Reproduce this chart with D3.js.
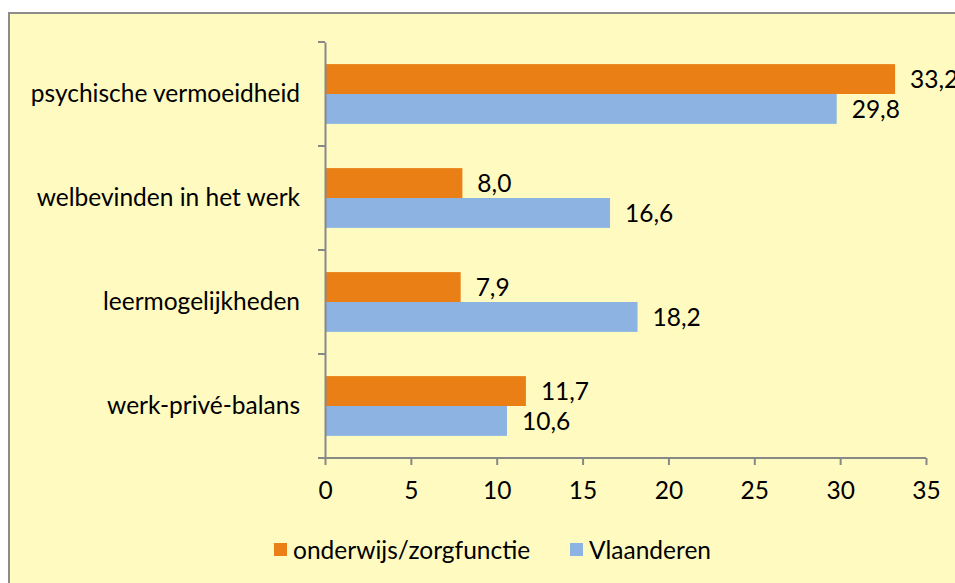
<!DOCTYPE html>
<html>
<head>
<meta charset="utf-8">
<script src="https://cdn.jsdelivr.net/npm/d3@7"></script>
<style>
body { margin: 0; background: #fff; overflow: hidden; }
text { font-family: Lato, "Open Sans", sans-serif; fill: #000; }
</style>
</head>
<body>
<svg width="955" height="583"></svg>
<script>
var categories = ["psychische vermoeidheid", "welbevinden in het werk", "leermogelijkheden", "werk-privé-balans"];
var seriesNames = ["onderwijs/zorgfunctie", "Vlaanderen"];
var onderwijs = [33.2, 8.0, 7.9, 11.7];
var vlaanderen = [29.8, 16.6, 18.2, 10.6];
var xTicks = [0, 5, 10, 15, 20, 25, 30, 35];
var colors = ["#EA7F16", "#8DB3E2"];
var fs = 24.5;

var svg = d3.select("svg");

// panel
svg.append("rect")
    .attr("x", 9).attr("y", 13)
    .attr("width", 960).attr("height", 590)
    .attr("fill", "#FFFAC0")
    .attr("stroke", "#8c8c8c")
    .attr("stroke-width", 2);

var x = d3.scaleLinear().domain([0, 35]).range([325, 926]);
var y = d3.scaleBand().domain(categories).range([42, 458]);
var inner = d3.scaleBand().domain(seriesNames).range([0, y.bandwidth()]).paddingOuter(0.74).paddingInner(0);

var fmt = v => d3.format(".1f")(v).replace(".", ",");

var data = categories.map((c, i) => ({cat: c, vals: [onderwijs[i], vlaanderen[i]]}));

var groups = svg.append("g").selectAll("g")
    .data(data).enter().append("g")
    .attr("transform", d => `translate(0,${y(d.cat)})`);

groups.selectAll("rect")
    .data(d => d.vals.map((v, k) => ({name: seriesNames[k], v: v, k: k})))
    .enter().append("rect")
    .attr("x", x(0))
    .attr("y", d => inner(d.name))
    .attr("width", d => x(d.v) - x(0))
    .attr("height", inner.bandwidth())
    .attr("fill", d => colors[d.k]);

groups.selectAll("text.val")
    .data(d => d.vals.map((v, k) => ({name: seriesNames[k], v: v, k: k})))
    .enter().append("text")
    .attr("class", "val")
    .attr("x", d => x(d.v) + 15)
    .attr("y", d => inner(d.name) + inner.bandwidth() / 2)
    .attr("dy", "0.35em")
    .attr("font-size", fs)
    .text(d => fmt(d.v));

// axes
var yAxis = svg.append("g")
    .attr("transform", `translate(${x(0)},0)`)
    .call(d3.axisLeft(y).tickSize(0).tickPadding(25));
yAxis.select(".domain").attr("stroke", "#888").attr("stroke-width", 2);
yAxis.selectAll("text").attr("font-size", fs).attr("fill", "#000");

// category boundary ticks
svg.append("g").selectAll("line")
    .data(categories.map(c => y(c)).concat([y.range()[1]]))
    .enter().append("line")
    .attr("x1", x(0) - 7).attr("x2", x(0))
    .attr("y1", d => d).attr("y2", d => d)
    .attr("stroke", "#888").attr("stroke-width", 2);

var xAxis = svg.append("g")
    .attr("transform", `translate(0,${y.range()[1]})`)
    .call(d3.axisBottom(x).tickValues(xTicks).tickSize(7).tickPadding(17).tickSizeOuter(0));
xAxis.select(".domain").attr("stroke", "#888").attr("stroke-width", 2)
    .attr("d", `M${x(0) - 7},0H${x(35)}`);
xAxis.selectAll("line").attr("stroke", "#888").attr("stroke-width", 2);
xAxis.selectAll("text").attr("font-size", fs).attr("fill", "#000").text(d => d);

// legend
var legendX = [274, 570];
var legend = svg.append("g").selectAll("g")
    .data(seriesNames).enter().append("g")
    .attr("transform", (d, i) => `translate(${legendX[i]},543)`);
legend.append("rect").attr("width", 13).attr("height", 13)
    .attr("fill", (d, i) => colors[i]);
legend.append("text").attr("x", 19).attr("y", 7).attr("dy", "0.35em")
    .attr("font-size", fs).text(d => d);
</script>
</body>
</html>
